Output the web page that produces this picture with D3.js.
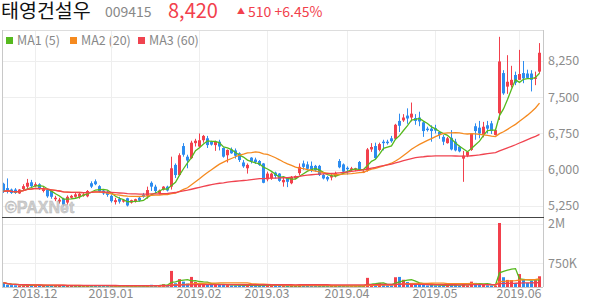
<!DOCTYPE html>
<html>
<head>
<meta charset="utf-8">
<script src="https://cdn.jsdelivr.net/npm/d3@7"></script>
<style>
  body { margin: 0; background: #fff; }
  text { font-family: "Noto Sans CJK KR", "Noto Sans", sans-serif; }
</style>
</head>
<body>
<script>
// stock info
const stockName = "태영건설우";
const stockCode = "009415";

// trading sessions, per month
const sessionMonths = ["2018.11", "2018.12", "2019.01", "2019.02", "2019.03", "2019.04", "2019.05", "2019.06"];
const sessionDays = [
  [21, 22, 23, 26, 27, 28, 29, 30],
  [3, 4, 5, 6, 7, 10, 11, 12, 13, 14, 17, 18, 19, 20, 21, 24, 26, 27, 28],
  [2, 3, 4, 7, 8, 9, 10, 11, 14, 15, 16, 17, 18, 21, 22, 23, 24, 25, 28, 29, 30, 31],
  [1, 7, 8, 11, 12, 13, 14, 15, 18, 19, 20, 21, 22, 25, 26, 27, 28],
  [4, 5, 6, 7, 8, 11, 12, 13, 14, 15, 18, 19, 20, 21, 22, 25, 26, 27, 28, 29],
  [1, 2, 3, 4, 5, 8, 9, 10, 11, 12, 15, 16, 17, 18, 19, 22, 23, 24, 25, 26, 29, 30],
  [2, 3, 7, 8, 9, 10, 13, 14, 15, 16, 17, 20, 21, 22, 23, 24, 27, 28, 29, 30, 31],
  [3, 4, 5, 7, 10, 11]
];

// daily prices (won)
const opens = [
  5710, 5620, 5590, 5590, 5510, 5600, 5650, 5740, 5660, 5700,
  5560, 5580, 5560, 5390, 5340, 5400, 5320, 5420, 5440, 5440,
  5460, 5450, 5720, 5760, 5660, 5570, 5540, 5460, 5330, 5400,
  5340, 5410, 5320, 5340, 5420, 5480, 5460, 5730, 5650, 5510,
  5590, 5650, 5650, 6100, 5890, 6490, 6270, 6240, 6550, 6480,
  6610, 6650, 6580, 6510, 6580, 6450, 6300, 6420, 6400, 6340,
  6150, 6030, 6250, 6210, 6180, 6130, 5800, 5820, 5940, 5920,
  5740, 5840, 5720, 5820, 5930, 6130, 6110, 6080, 6080, 6080,
  5890, 5850, 5840, 5870, 6180, 6110, 6040, 5990, 6000, 6160,
  5950, 5980, 6420, 6490, 6410, 6580, 6580, 6650, 6640, 7010,
  7020, 7120, 7080, 7070, 7080, 6980, 6850, 6850, 6860, 6780,
  6680, 6550, 6660, 6580, 6480, 6230, 6290, 6410, 6900, 6870,
  6720, 6920, 6960, 6720, 7170, 8000, 7720, 7750, 7960, 7860,
  8000, 7990, 7990, 7880, 8030
];
const highs = [
  5730, 5820, 5610, 5620, 5600, 5700, 5810, 5790, 5740, 5720,
  5640, 5600, 5580, 5460, 5420, 5420, 5470, 5480, 5520, 5530,
  5520, 5580, 5760, 5800, 5680, 5600, 5560, 5490, 5420, 5440,
  5380, 5420, 5380, 5400, 5440, 5520, 5650, 5760, 5690, 5590,
  5660, 5670, 6270, 6130, 6340, 6550, 6310, 6600, 6640, 6750,
  6720, 6700, 6600, 6600, 6620, 6460, 6420, 6460, 6440, 6360,
  6200, 6130, 6260, 6250, 6200, 6140, 5960, 5940, 5960, 5930,
  5840, 5850, 5870, 5880, 6130, 6190, 6170, 6170, 6100, 6100,
  5920, 5870, 5920, 5960, 6220, 6130, 6070, 6060, 6040, 6180,
  5990, 6450, 6550, 6560, 6560, 6620, 6620, 6700, 6950, 7160,
  7150, 7270, 7390, 7150, 7200, 7000, 6890, 6920, 6930, 6800,
  6720, 6680, 6820, 6640, 6500, 6390, 6380, 6760, 6960, 7010,
  6990, 7010, 7010, 6850, 8750, 8060, 8370, 8150, 8030, 8480,
  8250, 8070, 8060, 8030, 8620
];
const lows = [
  5520, 5510, 5500, 5500, 5500, 5570, 5590, 5630, 5640, 5580,
  5530, 5420, 5400, 5350, 5300, 5240, 5280, 5400, 5420, 5400,
  5440, 5430, 5620, 5680, 5530, 5480, 5440, 5320, 5280, 5300,
  5320, 5240, 5300, 5320, 5340, 5420, 5400, 5560, 5510, 5490,
  5570, 5550, 5590, 5830, 5880, 6270, 6030, 6220, 6480, 6460,
  6560, 6450, 6500, 6390, 6400, 6250, 6150, 6330, 6230, 6160,
  6040, 5920, 6130, 6120, 6080, 5720, 5760, 5790, 5820, 5750,
  5650, 5640, 5700, 5810, 5890, 6000, 5990, 5950, 5960, 5870,
  5800, 5760, 5780, 5840, 6030, 5950, 5900, 5960, 5970, 5970,
  5930, 5960, 6370, 6220, 6380, 6400, 6520, 6560, 6620, 6780,
  6990, 6950, 7000, 6930, 6900, 6680, 6790, 6580, 6750, 6640,
  6510, 6540, 6400, 6380, 6360, 5750, 6260, 6390, 6620, 6650,
  6670, 6750, 6740, 6710, 7030, 7550, 7570, 7700, 7750, 7860,
  7790, 7880, 7620, 7750, 7990
];
const closes = [
  5550, 5580, 5520, 5520, 5590, 5660, 5730, 5660, 5700, 5600,
  5600, 5450, 5440, 5420, 5380, 5280, 5440, 5460, 5490, 5500,
  5490, 5560, 5650, 5700, 5550, 5510, 5480, 5350, 5370, 5340,
  5370, 5260, 5370, 5390, 5360, 5440, 5580, 5650, 5560, 5570,
  5650, 5570, 6030, 5890, 6300, 6310, 6190, 6560, 6600, 6610,
  6700, 6510, 6520, 6580, 6480, 6270, 6410, 6340, 6290, 6200,
  6070, 6100, 6170, 6160, 6100, 5730, 5920, 5920, 5870, 5770,
  5790, 5750, 5850, 5870, 6060, 6060, 6020, 6000, 5990, 5890,
  5820, 5800, 5880, 5930, 6050, 5960, 6010, 6030, 6030, 5990,
  5960, 6420, 6470, 6240, 6530, 6550, 6550, 6590, 6930, 6910,
  7080, 7060, 7160, 7010, 7000, 6800, 6820, 6800, 6810, 6720,
  6580, 6650, 6420, 6400, 6380, 6290, 6370, 6750, 6800, 6750,
  6890, 6850, 6800, 6820, 8240, 7580, 7820, 7860, 7800, 7980,
  7890, 7900, 7860, 7910, 8420
];
// daily volume (shares)
const volumes = [
  140000, 75000, 60000, 55000, 50000, 45000, 70000, 50000, 45000, 40000,
  35000, 50000, 45000, 40000, 35000, 55000, 40000, 35000, 30000, 35000,
  30000, 40000, 60000, 45000, 40000, 35000, 30000, 30000, 25000, 30000,
  20000, 35000, 25000, 25000, 20000, 30000, 60000, 70000, 45000, 40000,
  90000, 50000, 510000, 120000, 250000, 170000, 110000, 320000, 160000, 110000,
  100000, 95000, 80000, 90000, 70000, 85000, 60000, 50000, 45000, 55000,
  60000, 50000, 45000, 40000, 35000, 95000, 70000, 40000, 35000, 40000,
  30000, 35000, 40000, 30000, 60000, 50000, 35000, 30000, 30000, 45000,
  35000, 30000, 30000, 30000, 50000, 40000, 30000, 25000, 25000, 40000,
  30000, 290000, 80000, 100000, 130000, 60000, 50000, 55000, 310000, 320000,
  230000, 160000, 130000, 80000, 70000, 90000, 50000, 70000, 50000, 45000,
  60000, 50000, 80000, 60000, 45000, 100000, 50000, 170000, 130000, 90000,
  70000, 55000, 50000, 45000, 2030000, 310000, 225000, 220000, 130000, 410000,
  230000, 130000, 190000, 215000, 340000
];

// moving averages
const maNames = ["MA1", "MA2", "MA3"];
const maPeriods = [5, 20, 60];

// axis ticks
const priceTicks = [5250, 6000, 6750, 7500, 8250];
const volumeTicks = [750000, 2000000];
const volumeTickLabels = ["750K", "2M"];

// colors
const upColor = "#f2404c";
const downColor = "#2d8cf0";
const maColors = ["#56b91e", "#f58a1f", "#f0434f"];

/**
 * Returns the moving average of values over the given period
 * (uses the available values while the window is not full yet)
 */
function movingAverage(values, period) {
  return values.map(function(v, i) {
    return d3.mean(values.slice(Math.max(0, i - period + 1), i + 1));
  });
}

/** Class representing the price and volume chart. */
class StockChart {
  /**
   * Creates the chart and joins the arrays into one row per session
   */
  constructor() {
    let dates = [];
    sessionMonths.forEach(function(m, k) {
      sessionDays[k].forEach(function(d) {
        dates.push(m + "." + String(d).padStart(2, "0"));
      });
    });
    this.rows = dates.map(function(date, i) {
      return {date: date, open: opens[i], high: highs[i], low: lows[i], close: closes[i], volume: volumes[i]};
    });
    // first session of every month gets a tick
    this.monthStarts = sessionMonths.slice(1).map(function(m, k) {
      return m + "." + String(sessionDays[k + 1][0]).padStart(2, "0");
    });

    this.left = 2;
    this.right = 543;
    this.top = 30;
    this.split = 217;
    this.bottom = 287;

    this.x = d3.scaleBand().domain(dates).range([1, 541]);
    this.yPrice = d3.scaleLinear().domain([5022, 8891]).range([this.split, this.top]);
    this.yVolume = d3.scaleLinear().domain([0, 2220000]).range([this.bottom, this.split]);
  }

  /** center of a session on the x axis */
  cx(date) {
    return Math.round(this.x(date) + this.x.bandwidth() / 2);
  }

  render() {
    this.svg = d3.select("body").append("svg")
      .attr("width", 594)
      .attr("height", 304);

    this.renderHeader();
    this.renderGrid();
    this.renderPrice();
    this.renderVolume();
    this.renderAxes();
  }

  renderHeader() {
    let svg = this.svg;
    let n = closes.length;
    let change = closes[n - 1] - closes[n - 2];
    let pct = change / closes[n - 2] * 100;

    svg.append("text").attr("x", 1).attr("y", 18)
      .attr("font-size", 19.5).attr("fill", "#111")
      .text(stockName);
    svg.append("text").attr("x", 105).attr("y", 17)
      .attr("font-size", 14).attr("fill", "#888")
      .text(stockCode);
    svg.append("text").attr("x", 168).attr("y", 18)
      .attr("font-size", 20).attr("fill", upColor)
      .text(d3.format(",")(closes[n - 1]));
    svg.append("text").attr("x", 237).attr("y", 14)
      .attr("font-size", 8).attr("fill", upColor)
      .text("▲");
    svg.append("text").attr("x", 248).attr("y", 17)
      .attr("font-size", 14).attr("fill", upColor)
      .text(change + " +" + pct.toFixed(2) + "%");

    // legend
    let legendX = [6, 70, 138];
    for (var i = 0; i < maNames.length; i++) {
      svg.append("rect")
        .attr("x", legendX[i]).attr("y", 37)
        .attr("width", 7).attr("height", 7)
        .attr("fill", maColors[i]);
      svg.append("text")
        .attr("x", legendX[i] + 11).attr("y", 45)
        .attr("font-size", 12.5).attr("fill", "#888")
        .text(maNames[i] + " (" + maPeriods[i] + ")");
    }
  }

  renderGrid() {
    let svg = this.svg;
    let self = this;
    let grid = svg.append("g").attr("stroke", "#eeeeee").attr("stroke-width", 1);

    grid.selectAll(".hp").data(priceTicks).enter().append("line")
      .attr("x1", this.left).attr("x2", this.right)
      .attr("y1", d => Math.round(this.yPrice(d)) + 0.5)
      .attr("y2", d => Math.round(this.yPrice(d)) + 0.5);
    grid.selectAll(".hv").data(volumeTicks).enter().append("line")
      .attr("x1", this.left).attr("x2", this.right)
      .attr("y1", d => Math.round(this.yVolume(d)) + 0.5)
      .attr("y2", d => Math.round(this.yVolume(d)) + 0.5);
    grid.selectAll(".vx").data(this.monthStarts).enter().append("line")
      .attr("x1", d => self.cx(d) + 0.5).attr("x2", d => self.cx(d) + 0.5)
      .attr("y1", this.top).attr("y2", this.bottom);

    // frame
    svg.append("line").attr("x1", this.left).attr("x2", this.right)
      .attr("y1", this.top + 0.5).attr("y2", this.top + 0.5).attr("stroke", "#dddddd");
    svg.append("line").attr("x1", this.left + 0.5).attr("x2", this.left + 0.5)
      .attr("y1", this.top).attr("y2", this.bottom).attr("stroke", "#c8c8c8");
    svg.append("line").attr("x1", this.right + 0.5).attr("x2", this.right + 0.5)
      .attr("y1", this.top).attr("y2", this.bottom).attr("stroke", "#c8c8c8");
    svg.append("line").attr("x1", this.left).attr("x2", this.right)
      .attr("y1", this.bottom + 0.5).attr("y2", this.bottom + 0.5).attr("stroke", "#c8c8c8");
  }

  renderPrice() {
    let svg = this.svg;
    let self = this;
    let y = this.yPrice;

    svg.append("clipPath").attr("id", "clipPrice").append("rect")
      .attr("x", this.left + 1).attr("y", this.top)
      .attr("width", this.right - this.left - 1).attr("height", this.split - this.top);

    let g = svg.append("g").attr("clip-path", "url(#clipPrice)");

    let candle = g.selectAll(".candle").data(this.rows).enter().append("g");
    candle.append("line")
      .attr("x1", d => self.cx(d.date) + 0.5).attr("x2", d => self.cx(d.date) + 0.5)
      .attr("y1", d => y(d.high)).attr("y2", d => y(d.low))
      .attr("stroke", d => d.close >= d.open ? upColor : downColor);
    candle.append("rect")
      .attr("x", d => self.cx(d.date) - 1)
      .attr("width", 3)
      .attr("y", d => y(Math.max(d.open, d.close)))
      .attr("height", d => Math.max(1, Math.abs(y(d.open) - y(d.close))))
      .attr("fill", d => d.close >= d.open ? upColor : downColor);

    // moving average lines
    for (var i = 0; i < maPeriods.length; i++) {
      let ma = movingAverage(closes, maPeriods[i]);
      let line = d3.line()
        .x((d, k) => self.cx(self.rows[k].date) + 0.5)
        .y(d => y(d));
      g.append("path")
        .datum(ma)
        .attr("d", line)
        .attr("fill", "none")
        .attr("stroke", maColors[i])
        .attr("stroke-width", 1.3);
    }

    // watermark
    svg.append("text")
      .attr("x", 5).attr("y", 213)
      .style("font-family", "Liberation Sans, Arial, sans-serif")
      .attr("font-weight", "bold").attr("font-size", 16)
      .attr("fill", "#c6c6c6").attr("stroke", "#a8a8a8").attr("stroke-width", 0.4)
      .attr("opacity", 0.85)
      .text("©PAXNet");

    // panel separator
    svg.append("line").attr("x1", this.left).attr("x2", this.right + 1)
      .attr("y1", this.split + 0.5).attr("y2", this.split + 0.5)
      .attr("stroke", "#444").attr("stroke-width", 1);
  }

  renderVolume() {
    let svg = this.svg;
    let self = this;
    let y = this.yVolume;

    svg.append("clipPath").attr("id", "clipVolume").append("rect")
      .attr("x", this.left + 1).attr("y", this.split + 1)
      .attr("width", this.right - this.left - 1).attr("height", this.bottom - this.split - 1);

    let g = svg.append("g").attr("clip-path", "url(#clipVolume)");

    g.selectAll(".vol").data(this.rows).enter().append("rect")
      .attr("x", d => self.cx(d.date) - 1)
      .attr("width", 3)
      .attr("y", d => y(d.volume))
      .attr("height", d => y(0) - y(d.volume))
      .attr("fill", d => d.close >= d.open ? upColor : downColor);

    for (var i = 0; i < maPeriods.length; i++) {
      let ma = movingAverage(volumes, maPeriods[i]);
      let line = d3.line()
        .x((d, k) => self.cx(self.rows[k].date) + 0.5)
        .y(d => y(d));
      g.append("path")
        .datum(ma)
        .attr("d", line)
        .attr("fill", "none")
        .attr("stroke", maColors[i])
        .attr("stroke-width", 1.3);
    }
  }

  renderAxes() {
    let svg = this.svg;

    let priceAxis = d3.axisRight(this.yPrice)
      .tickValues(priceTicks)
      .tickFormat(d3.format(","))
      .tickSize(0).tickPadding(4);
    let volumeAxis = d3.axisRight(this.yVolume)
      .tickValues(volumeTicks)
      .tickFormat((d, i) => volumeTickLabels[i])
      .tickSize(0).tickPadding(4);
    let dateAxis = d3.axisBottom(this.x)
      .tickValues(this.monthStarts)
      .tickFormat(d => d.slice(0, 7))
      .tickSize(0).tickPadding(2);

    let ga = svg.append("g").attr("transform", "translate(" + (this.right + 1) + ",0)").call(priceAxis);
    let gv = svg.append("g").attr("transform", "translate(" + (this.right + 1) + ",0)").call(volumeAxis);
    let gd = svg.append("g").attr("transform", "translate(0," + this.bottom + ")").call(dateAxis);

    [ga, gv, gd].forEach(function(a) {
      a.select(".domain").remove();
      a.selectAll("text")
        .attr("font-size", 12.5)
        .attr("fill", "#8c8c8c")
        .style("font-family", "'Noto Sans CJK KR', 'Noto Sans', sans-serif");
    });
  }
}

let chart = new StockChart();
chart.render();
</script>
</body>
</html>
